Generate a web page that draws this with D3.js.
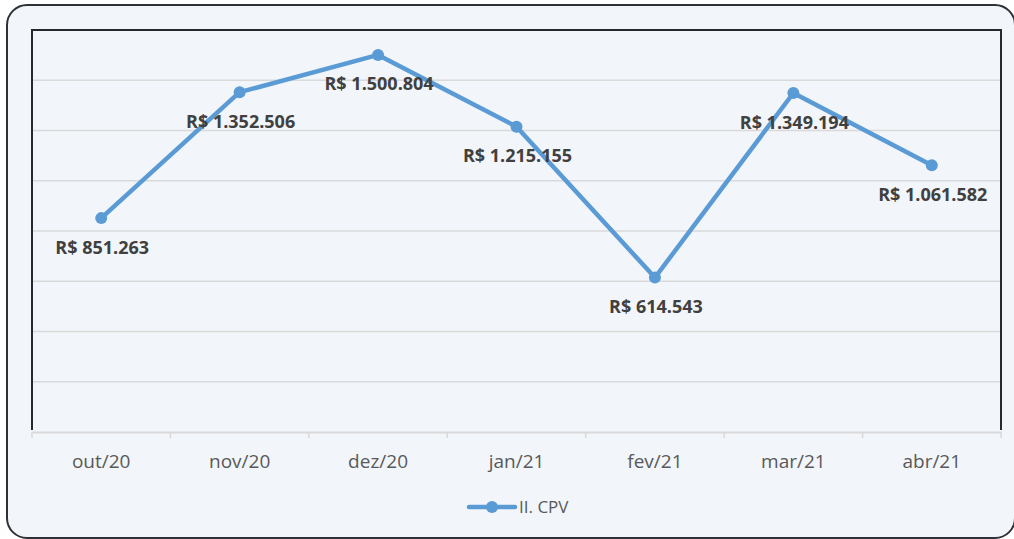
<!DOCTYPE html>
<html><head><meta charset="utf-8">
<script src="https://cdn.jsdelivr.net/npm/d3@7"></script>
<style>html,body{margin:0;padding:0;background:#fff;}svg{display:block;}</style>
</head><body>
<svg id="c" width="1014" height="539"></svg>
<script>
const categories = ["out/20","nov/20","dez/20","jan/21","fev/21","mar/21","abr/21"];
const values = [851263, 1352506, 1500804, 1215155, 614543, 1349194, 1061582];
const labels = ["R$ 851.263","R$ 1.352.506","R$ 1.500.804","R$ 1.215.155","R$ 614.543","R$ 1.349.194","R$ 1.061.582"];
const seriesName = "II. CPV";
const yTicks = [0,200000,400000,600000,800000,1000000,1200000,1400000,1600000];

const svg = d3.select("#c");
svg.append("rect").attr("x",7).attr("y",5).attr("width",1008).attr("height",533)
  .attr("rx",20).attr("fill","#F2F5FA").attr("stroke","#2E3238").attr("stroke-width",2);

const L=32,R=1001,T=30,B=432;
const x = d3.scaleBand().domain(categories).range([L,R]);
const y = d3.scaleLinear().domain([0,1600000]).range([B,T]);

// gridlines
svg.append("g").selectAll("line").data(yTicks.slice(1,-1)).join("line")
  .attr("x1",L).attr("x2",R).attr("y1",d=>y(d)).attr("y2",d=>y(d))
  .attr("stroke","#D9D9D9").attr("stroke-width",1.5);

// x axis
const xa = svg.append("g").attr("transform",`translate(0,${B})`)
  .call(d3.axisBottom(x).tickSize(0).tickPadding(23));
xa.select(".domain").attr("stroke","#D9D9D9").attr("stroke-width",2);
xa.selectAll("text").attr("fill","#595959").attr("font-family","'Open Sans', sans-serif").attr("font-size",19);
// band boundary ticks
const bounds = categories.map(c=>x(c)).concat([R]);
svg.append("g").selectAll("line").data(bounds).join("line")
  .attr("x1",d=>d).attr("x2",d=>d).attr("y1",B).attr("y2",B+6)
  .attr("stroke","#D9D9D9").attr("stroke-width",1.5);

// plot border (top, left, right dark)
svg.append("path").attr("d",`M${L},${B-2}V${T}H${R}V${B-2}`)
  .attr("fill","none").attr("stroke","#262A30").attr("stroke-width",2);

const cx = d=>x(d)+x.bandwidth()/2;
const line = d3.line().x((d,i)=>cx(categories[i])).y(d=>y(d));
svg.append("path").datum(values).attr("d",line).attr("fill","none")
  .attr("stroke","#5B9BD5").attr("stroke-width",4.5).attr("stroke-linejoin","round");
svg.append("g").selectAll("circle").data(values).join("circle")
  .attr("cx",(d,i)=>cx(categories[i])).attr("cy",d=>y(d)).attr("r",6).attr("fill","#5B9BD5");

svg.append("g").selectAll("text").data(values).join("text")
  .attr("x",(d,i)=>cx(categories[i])+1).attr("y",d=>y(d)+35.5)
  .attr("text-anchor","middle").attr("font-family","'Open Sans', sans-serif")
  .attr("font-weight","bold").attr("font-size",18).attr("fill","#404040")
  .text((d,i)=>labels[i]);

// legend
const lg = svg.append("g");
lg.append("line").attr("x1",469).attr("x2",515).attr("y1",507).attr("y2",507)
  .attr("stroke","#5B9BD5").attr("stroke-width",4.5).attr("stroke-linecap","round");
lg.append("circle").attr("cx",492).attr("cy",507).attr("r",6).attr("fill","#5B9BD5");
lg.append("text").attr("x",519).attr("y",513).attr("font-family","'Open Sans', sans-serif")
  .attr("font-size",17).attr("fill","#595959").text(seriesName);
</script>
</body></html>
